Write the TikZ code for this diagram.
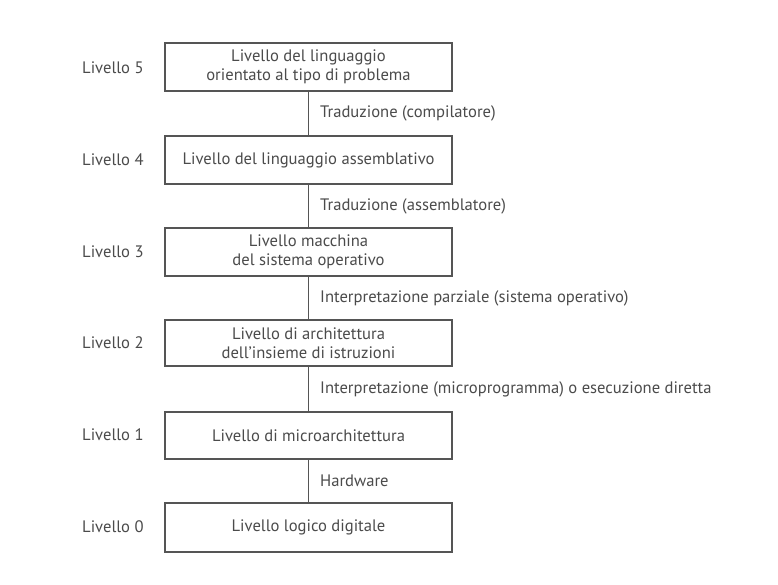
\documentclass[tikz,border=0pt]{standalone}
\usepackage{fontspec}
\setmainfont{PT Sans}
\begin{document}
\begin{tikzpicture}[x=1pt,y=-1pt,
  lvbox/.style={draw=linecol, line width=1.4pt, minimum width=287pt, minimum height=48pt, inner sep=0pt, align=center, text=txtcol, font=\fontsize{16.6}{19.5}\selectfont},
  lvlab/.style={anchor=west, text=txtcol, font=\fontsize{16.6}{19}\selectfont, inner sep=0pt},
  conn/.style={draw=linecol, line width=1.4pt},
  clab/.style={anchor=west, text=txtcol, font=\fontsize{16.6}{19}\selectfont, inner sep=0pt, xshift=11pt}]
\definecolor{linecol}{RGB}{85,85,85}
\definecolor{txtcol}{RGB}{75,75,75}
\useasboundingbox[fill=white] (0,0) rectangle (778,585);
\node[lvbox] (b5) at (308.5,67) {Livello del linguaggio\\orientato al tipo di problema};
\node[lvbox] (b4) at (308.5,160) {Livello del linguaggio assemblativo};
\node[lvbox] (b3) at (308.5,252) {Livello macchina\\del sistema operativo};
\node[lvbox, minimum height=46pt] (b2) at (308.5,343) {Livello di architettura\\dell'insieme di istruzioni};
\node[lvbox, minimum height=47pt] (b1) at (308.5,435.5) {Livello di microarchitettura};
\node[lvbox, minimum height=49pt] (b0) at (308.5,527.5) {Livello logico digitale};
\node[lvlab] (l5) at (82,68) {Livello 5};
\node[lvlab] (l4) at (82,160) {Livello 4};
\node[lvlab] (l3) at (82,252) {Livello 3};
\node[lvlab] (l2) at (82,343) {Livello 2};
\node[lvlab] (l1) at (82,435) {Livello 1};
\node[lvlab] (l0) at (82,527) {Livello 0};
\draw[conn] (b5.south) -- node[clab] {Traduzione (compilatore)} (b4.north);
\draw[conn] (b4.south) -- node[clab] {Traduzione (assemblatore)} (b3.north);
\draw[conn] (b3.south) -- node[clab] {Interpretazione parziale (sistema operativo)} (b2.north);
\draw[conn] (b2.south) -- node[clab] {Interpretazione (microprogramma) o esecuzione diretta} (b1.north);
\draw[conn] (b1.south) -- node[clab] {Hardware} (b0.north);
\end{tikzpicture}
\end{document}
